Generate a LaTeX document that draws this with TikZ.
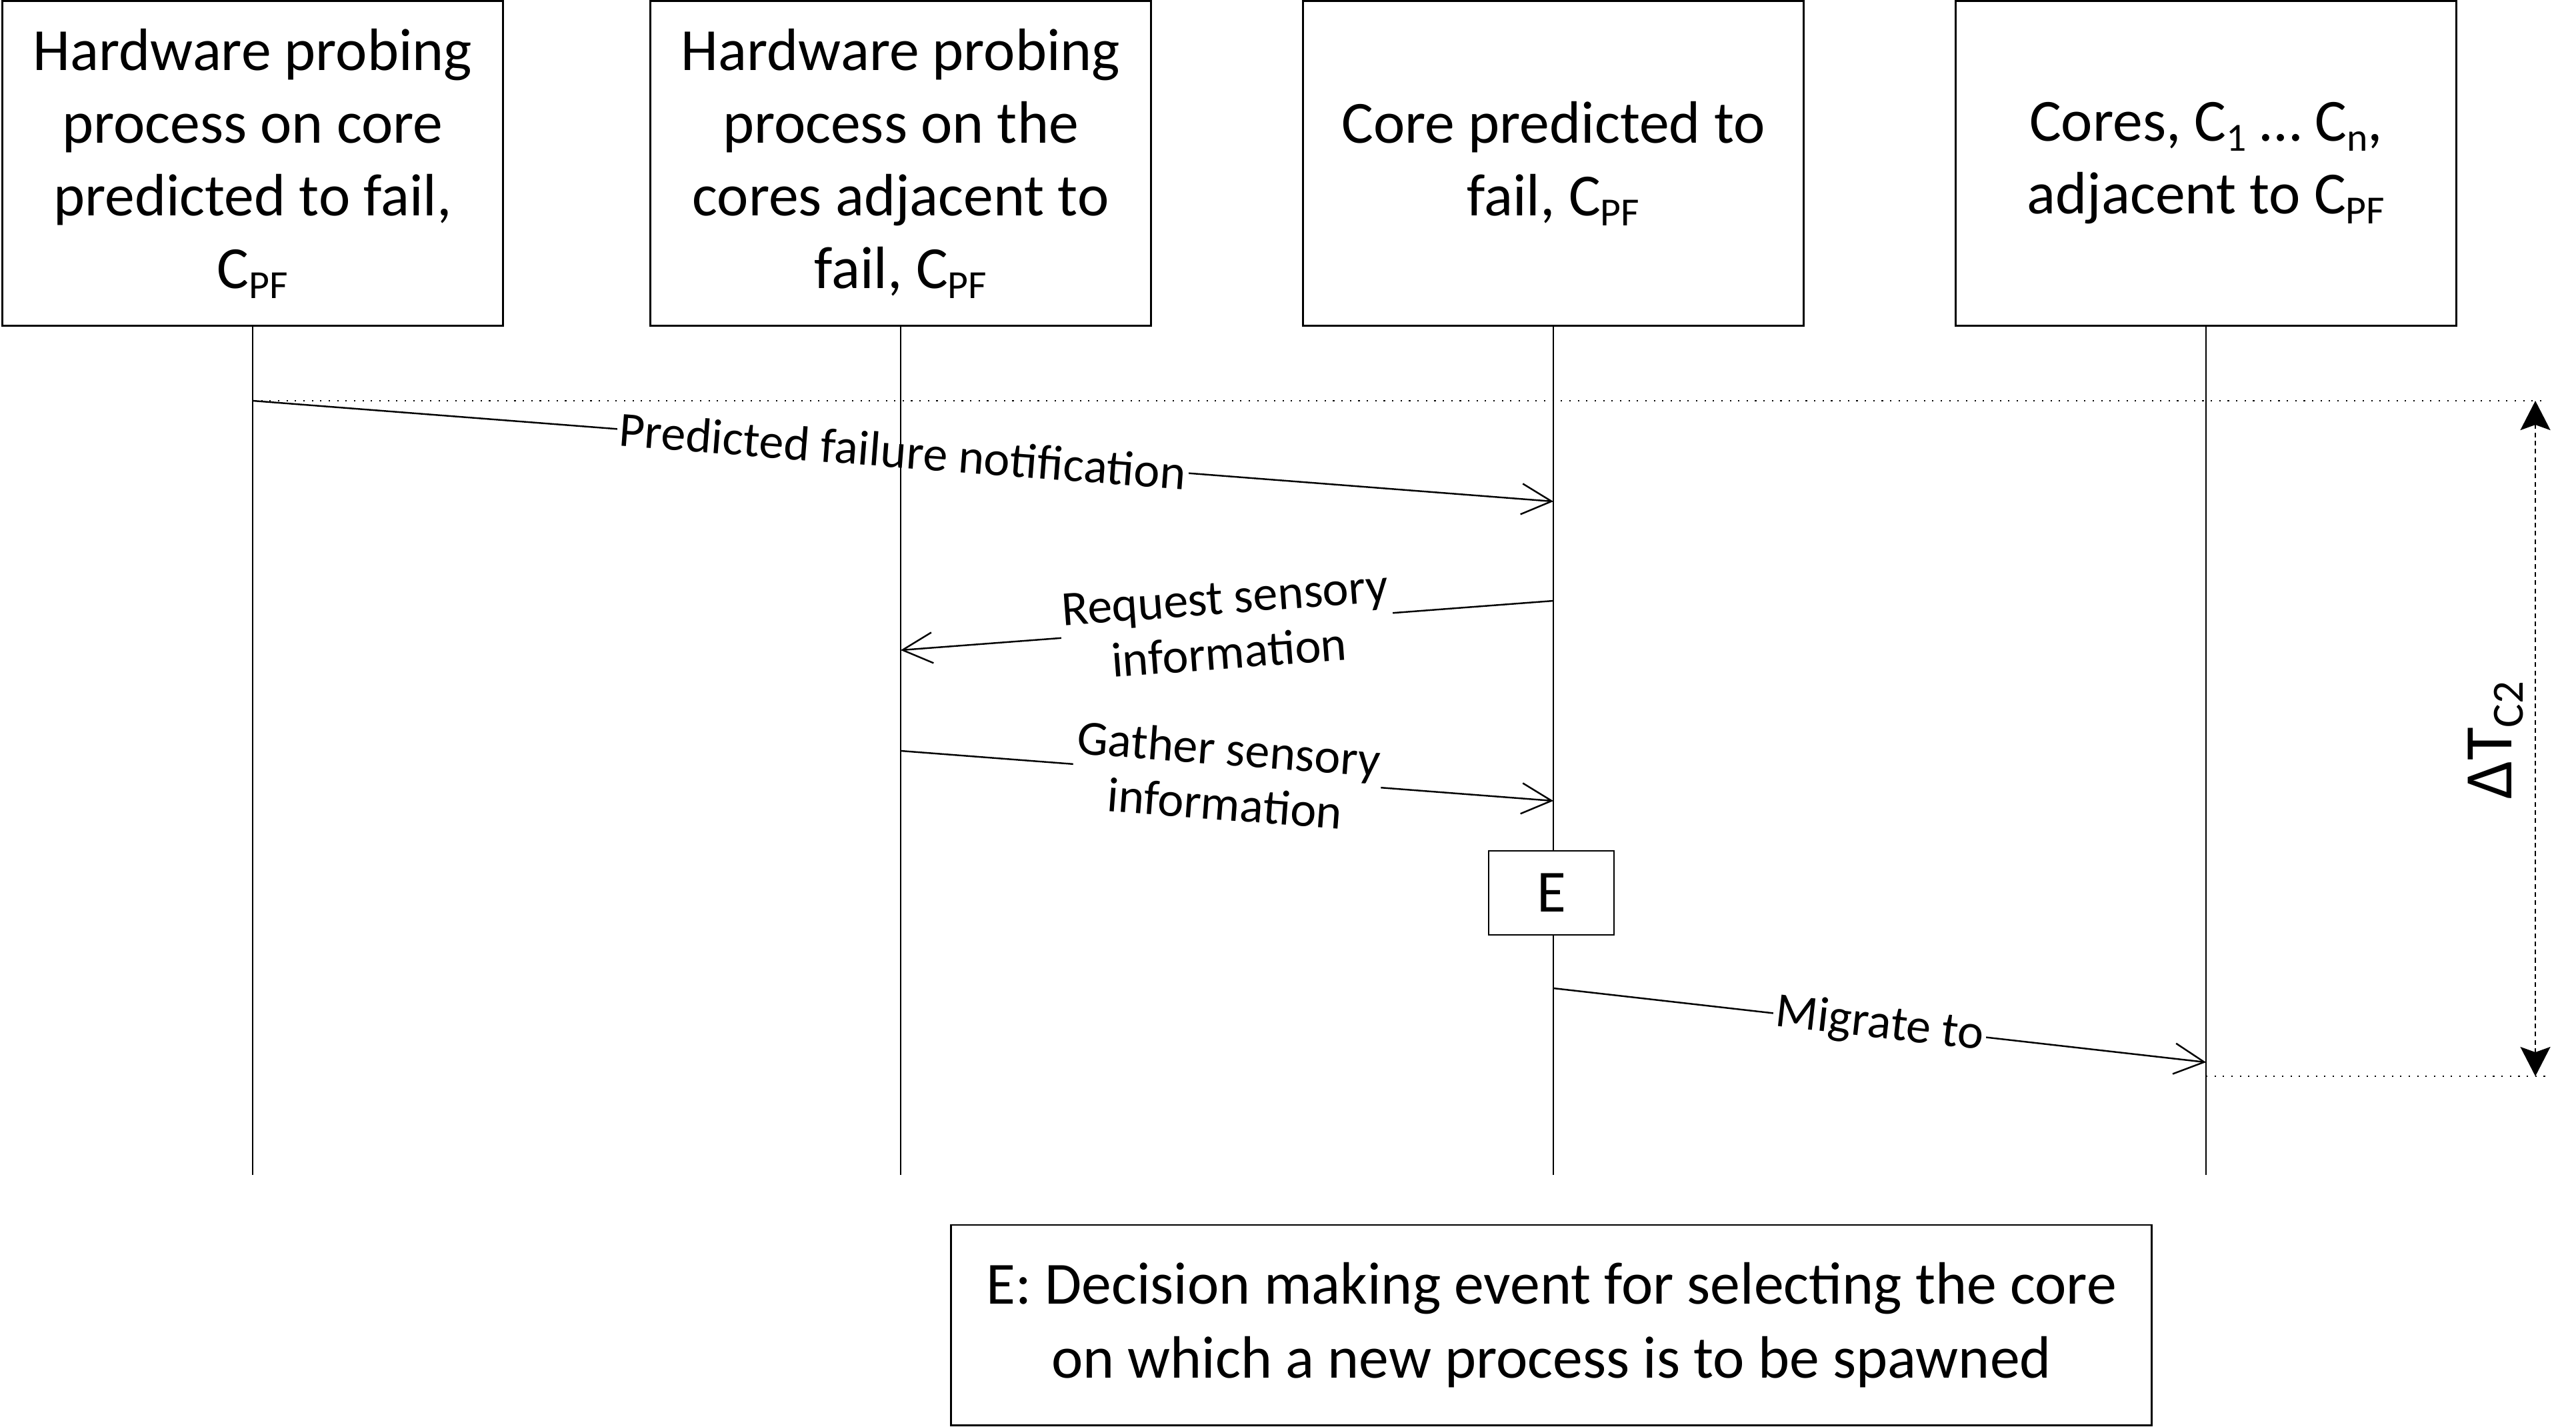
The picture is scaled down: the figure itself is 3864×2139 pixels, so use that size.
\documentclass[tikz,border=0pt]{standalone}
\usepackage{fontspec}
\setmainfont{Carlito}
\usetikzlibrary{arrows.meta}
\newcommand\sbs[1]{\raisebox{-0.35ex}{\fontsize{17}{17}\selectfont #1}}
\newcommand\sbsbig[1]{\raisebox{-0.35ex}{\fontsize{19}{19}\selectfont #1}}
\begin{document}
\begin{tikzpicture}[x=0.01cm,y=-0.01cm,line width=0.8pt,
  actorbox/.style={draw,line width=0.8pt,minimum width=7.5cm,minimum height=4.86cm,inner sep=0pt,align=center,font=\fontsize{25.5}{31}\selectfont},
  msg/.style={-{Straight Barb[length=0.45cm,width=0.46cm]},line width=0.7pt},
  msglabel/.style={midway,sloped,fill=white,inner sep=1pt,align=center,font=\fontsize{21}{23.5}\selectfont},
  dotline/.style={line width=0.6pt,dash pattern=on 0.6pt off 3pt},
  lifeline/.style={line width=0.7pt}]
\useasboundingbox (0,0) rectangle (3864,2139);
% actor boxes
\node[actorbox] (b1) at (379,245) {Hardware probing\\process on core\\predicted to fail,\\C\sbs{PF}};
\node[actorbox] (b2) at (1351,245) {Hardware probing\\process on the\\cores adjacent to\\fail, C\sbs{PF}};
\node[actorbox] (b3) at (2330,245) {Core predicted to\\fail, C\sbs{PF}};
\node[actorbox] (b4) at (3309,245) {Cores, C\sbs{1} \dots\ C\sbs{n},\\adjacent to C\sbs{PF}};
% lifeline ends
\coordinate (e1) at (379,1762);
\coordinate (e2) at (1351,1762);
\coordinate (e3) at (2330,1762);
\coordinate (e4) at (3309,1762);
% message points
\coordinate (m1s) at (379,601);
\coordinate (m1e) at (2330,752);
\coordinate (m2s) at (2330,901);
\coordinate (m2e) at (1351,975);
\coordinate (m3s) at (1351,1126);
\coordinate (m3e) at (2330,1201);
\coordinate (m4s) at (2330,1482);
\coordinate (m4e) at (3309,1593);
% timing marks
\coordinate (t1) at (3822,601);
\coordinate (t2) at (3309,1614);
\coordinate (t3) at (3826,1614);
\coordinate (ta) at (3803,601);
\coordinate (tb) at (3803,1614);
% dotted reference lines
\draw[dotline] (m1s) -- (t1);
\draw[dotline] (t2) -- (t3);
% messages
\draw[msg] (m1s) -- node[msglabel] {Predicted failure notification} (m1e);
\draw[msg] (m2s) -- node[msglabel] {Request sensory\\information} (m2e);
\draw[msg] (m3s) -- node[msglabel] {Gather sensory\\information} (m3e);
\draw[msg] (m4s) -- node[msglabel] {Migrate to} (m4e);
% lifelines
\draw[lifeline] (b1.south) -- (e1);
\draw[lifeline] (b2.south) -- (e2);
\draw[lifeline] (b3.south) -- (e3);
\draw[lifeline] (b4.south) -- (e4);
% event box
\node[draw,fill=white,line width=0.8pt,minimum width=1.88cm,minimum height=1.26cm,inner sep=0pt,font=\fontsize{25.5}{31}\selectfont] (E) at (2327,1339) {E};
% delta T
\draw[{Stealth[length=0.44cm,width=0.45cm,inset=0.08cm]}-{Stealth[length=0.44cm,width=0.45cm,inset=0.08cm]},line width=0.6pt,dash pattern=on 2pt off 1.5pt] (ta) -- (tb);
\node[rotate=90,inner sep=0pt,font=\fontsize{29}{31}\selectfont] (dt) at (3743,1110) {ΔT\sbsbig{C2}};
% note
\node[draw,line width=0.8pt,minimum width=18cm,minimum height=3cm,inner sep=0pt,align=center,font=\fontsize{25.5}{31.5}\selectfont] (note) at (2327,1987) {E: Decision making event for selecting the core\\on which a new process is to be spawned};
\end{tikzpicture}
\end{document}
